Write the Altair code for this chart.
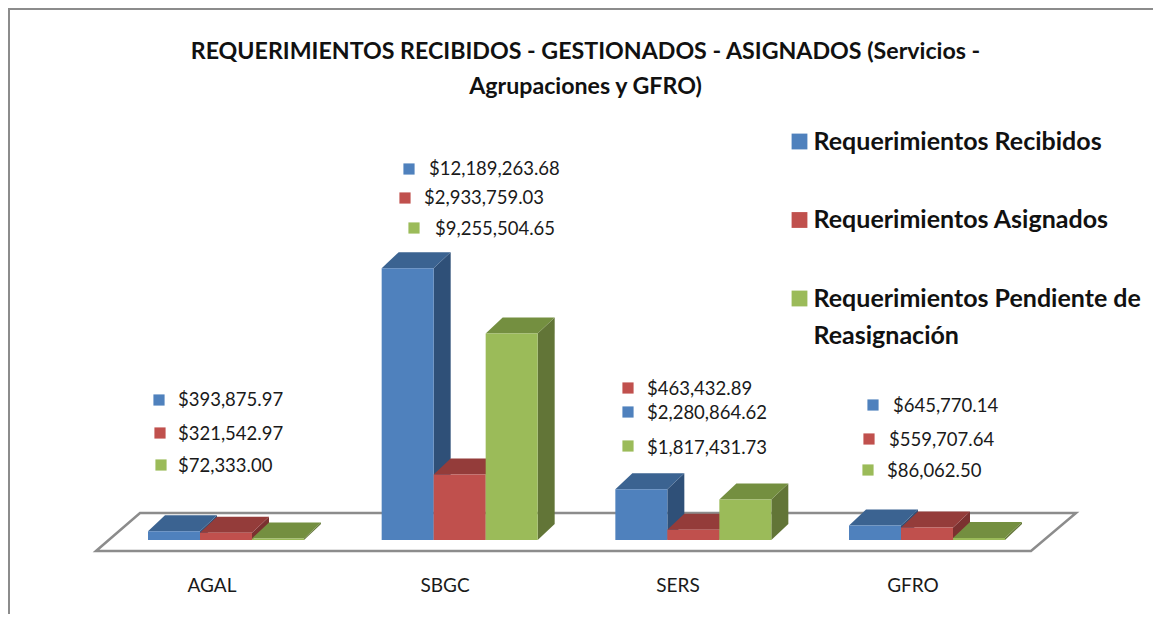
import altair as alt
import pandas as pd

# ---- values
categories = ["AGAL", "SBGC", "SERS", "GFRO"]
series = ["Requerimientos Recibidos", "Requerimientos Asignados", "Requerimientos Pendiente de Reasignación"]
recibidos = [393875.97, 12189263.68, 2280864.62, 645770.14]
asignados = [321542.97, 2933759.03, 463432.89, 559707.64]
pendiente = [72333.00, 9255504.65, 1817431.73, 86062.50]
title_lines = ["REQUERIMIENTOS RECIBIDOS - GESTIONADOS - ASIGNADOS (Servicios -", "Agrupaciones  y GFRO)"]

# ---- styles
front = ["#4F81BD", "#C0504D", "#9BBB59"]
top_c = ["#3B6391", "#943C3A", "#748F40"]
side_c = ["#2F5078", "#7B3130", "#627537"]
FONT = "Lato"
W, H = 1145, 606
PX_PER_M = 22.3
BASE = 540            # page pixel of value 0


def v(py):
    return (BASE - py) / PX_PER_M * 1e6


def dv(dy):
    return dy / PX_PER_M * 1e6


series_vals = [recibidos, asignados, pendiente]
START, STEP, BW, DX, DY = 148, 233.67, 52, 17, 16

fronts, tops, sides = [], [], []
for si, s in enumerate(series):
    for ci, c in enumerate(categories):
        val = series_vals[si][ci]
        x0 = START + STEP * ci + BW * si
        x1 = x0 + BW
        fronts.append(dict(s=s, c=c, x=x0, x2=x1, y=val, y2=0))
        d = dv(DY)
        tops += [
            dict(s=s, c=c, x=x0, y=val, y2=val),
            dict(s=s, c=c, x=x0 + DX, y=val + d, y2=val),
            dict(s=s, c=c, x=x1, y=val + d, y2=val),
            dict(s=s, c=c, x=x1 + DX, y=val + d, y2=val + d),
        ]
        sides += [
            dict(s=s, c=c, x=x1, y=val, y2=0),
            dict(s=s, c=c, x=x1 + DX, y=val + d, y2=d),
        ]
fronts, tops, sides = map(pd.DataFrame, (fronts, tops, sides))

floor = pd.DataFrame([
    dict(x=96, y=v(551), y2=v(551)),
    dict(x=140, y=v(513), y2=v(551)),
    dict(x=1031, y=v(513), y2=v(551)),
    dict(x=1076, y=v(513), y2=v(513)),
])

# ---- placement of the free floating data labels: (marker x, marker y, text x, text y)
label_place = [
    [(159, 400, 178, 400), (160, 433, 178, 434), (161, 465, 178, 466)],
    [(409, 169, 429, 169), (405, 198, 424, 198), (414, 228, 435, 229)],
    [(628, 412, 647, 413), (628, 388, 647, 389), (628, 446, 647, 448)],
    [(873, 405, 893, 406), (869, 439, 889, 440), (868, 470, 887, 471)],
]
rows = []
for ci, c in enumerate(categories):
    for si, s in enumerate(series):
        mx, my, tx, ty = label_place[ci][si]
        rows.append(dict(s=s, c=c, value=series_vals[si][ci], mx=mx, my=v(my), tx=tx, ty=v(ty)))
labels = pd.DataFrame(rows)

cat_place = [212, 445, 678, 913]
cat_labels = pd.DataFrame({"c": categories, "x": cat_place, "y": [v(586)] * 4})

xs = alt.Scale(domain=[8, 8 + W], range=[0, W], nice=False, zero=False)
ys = alt.Scale(domain=[v(8 + H), v(8)], range=[H, 0], nice=False, zero=False)
color = alt.Scale(domain=series, range=front)
X = lambda f="x": alt.X(f"{f}:Q", scale=xs, axis=None)
Y = lambda f="y": alt.Y(f"{f}:Q", scale=ys, axis=None)

layers = [
    alt.Chart(floor).mark_area(fill="white", stroke="#8C8C8C", strokeWidth=2.5, opacity=1).encode(
        x=X(), y=Y(), y2="y2:Q"),
]
for si, s in enumerate(series):
    layers.append(alt.Chart(sides[sides.s == s]).mark_area(color=side_c[si], opacity=1).encode(
        x=X(), y=Y(), y2="y2:Q", detail="c:N"))
    layers.append(alt.Chart(tops[tops.s == s]).mark_area(color=top_c[si], opacity=1).encode(
        x=X(), y=Y(), y2="y2:Q", detail="c:N"))
    layers.append(alt.Chart(fronts[fronts.s == s]).mark_rect().encode(
        x=X(), x2="x2:Q", y=Y(), y2="y2:Q",
        color=alt.Color("s:N", scale=color, legend=alt.Legend(
            title=None, orient="none", legendX=779, legendY=121, symbolType="square",
            symbolSize=250, symbolStrokeWidth=0, labelFont=FONT, labelFontSize=25, labelFontWeight="bold",
            labelColor="#111", labelLimit=400, rowPadding=52.5, labelOffset=1.5,
            labelExpr="datum.label == 'Requerimientos Pendiente de Reasignación' ? ['Requerimientos Pendiente de', 'Reasignación'] : datum.label",
        ))))

layers.append(alt.Chart(labels).mark_square(size=125, opacity=1).encode(
    x=X("mx"), y=Y("my"), color=alt.Color("s:N", scale=color, legend=None)))
layers.append(alt.Chart(labels).mark_text(align="left", baseline="middle", font=FONT, fontSize=18.5, color="#1a1a1a").encode(
    x=X("tx"), y=Y("ty"), text=alt.Text("value:Q", format="$,.2f")))
layers.append(alt.Chart(cat_labels).mark_text(align="center", baseline="middle", font=FONT, fontSize=19, color="#1a1a1a").encode(
    x=X(), y=Y(), text="c:N"))

frame_color = "#8C8C8C"
layers.append(alt.Chart(pd.DataFrame({"a": [0]})).mark_rule(color=frame_color, strokeWidth=2).encode(
    x=alt.value(0), x2=alt.value(W), y=alt.value(1)))
layers.append(alt.Chart(pd.DataFrame({"a": [0]})).mark_rule(color=frame_color, strokeWidth=2).encode(
    x=alt.value(1), y=alt.value(0), y2=alt.value(H)))

chart = alt.layer(*layers).properties(
    width=W, height=H, padding=0, autosize=alt.AutoSizeParams(type="none"),
    title=alt.TitleParams(text=title_lines, anchor="middle", font=FONT, fontSize=23.2, fontWeight="bold",
                          color="#111", lineHeight=35, dy=96, dx=5),
).configure_view(stroke=None).configure(style={"guide-label": {"lineHeight": 37}})

chart.save("out.html", embed_options={"renderer": "svg", "actions": False})
